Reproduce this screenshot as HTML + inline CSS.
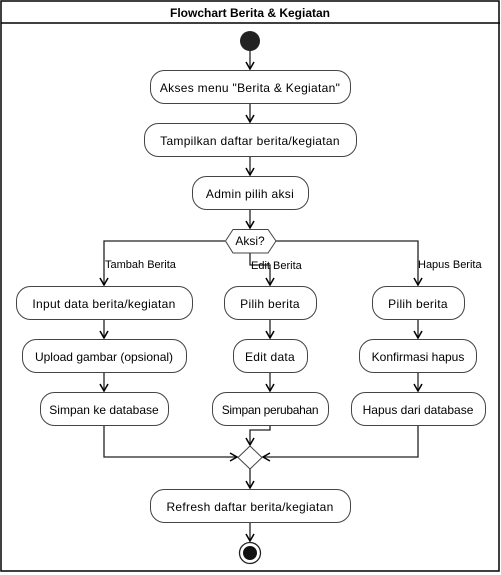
<!DOCTYPE html>
<html><head><style>
html,body{margin:0;padding:0;background:#fff;}
svg{display:block;}
text{font-family:"Liberation Sans",sans-serif;font-size:12px;fill:#000;}
</style></head><body>
<svg width="501" height="575" viewBox="0 0 501 575" xmlns="http://www.w3.org/2000/svg">
<defs>
<marker id="a" markerWidth="10" markerHeight="10" refX="8" refY="5" orient="auto" markerUnits="userSpaceOnUse">
<path d="M1,1 L8,5 L1,9" fill="none" stroke="#000" stroke-width="1.5"/>
</marker>
</defs>
<rect x="1" y="1" width="498" height="570" fill="#fff" stroke="#000" stroke-width="1.5"/>
<line x1="1" y1="23" x2="500" y2="23" stroke="#000" stroke-width="1.5"/>
<text x="250" y="17" text-anchor="middle" font-weight="bold">Flowchart Berita &amp; Kegiatan</text>
<circle cx="250" cy="41" r="10" fill="#222"/>
<g fill="none" stroke="#222" stroke-width="1.3">
<line x1="250" y1="51" x2="250" y2="69" marker-end="url(#a)"/>
<line x1="250" y1="103" x2="250" y2="122" marker-end="url(#a)"/>
<line x1="250" y1="156" x2="250" y2="175" marker-end="url(#a)"/>
<line x1="250" y1="209" x2="250" y2="228" marker-end="url(#a)"/>
<polyline points="225,241 104,241 104,285" marker-end="url(#a)"/>
<polyline points="276,241 418,241 418,285" marker-end="url(#a)"/>
<polyline points="250,253 250,265 270,265 270,285" marker-end="url(#a)"/>
<line x1="104" y1="319" x2="104" y2="338" marker-end="url(#a)"/>
<line x1="104" y1="372" x2="104" y2="391" marker-end="url(#a)"/>
<line x1="270" y1="319" x2="270" y2="338" marker-end="url(#a)"/>
<line x1="270" y1="372" x2="270" y2="391" marker-end="url(#a)"/>
<line x1="418" y1="319" x2="418" y2="338" marker-end="url(#a)"/>
<line x1="418" y1="372" x2="418" y2="391" marker-end="url(#a)"/>
<polyline points="104,425 104,457 237,457" marker-end="url(#a)"/>
<polyline points="418,425 418,457 263,457" marker-end="url(#a)"/>
<polyline points="270,425 270,430 250,430 250,445" marker-end="url(#a)"/>
<line x1="250" y1="469" x2="250" y2="488" marker-end="url(#a)"/>
<line x1="250" y1="522" x2="250" y2="541" marker-end="url(#a)"/>
</g>
<g fill="#fff" stroke="#444" stroke-width="1">
<rect x="150.5" y="70.5" width="200" height="33" rx="14"/>
<rect x="144.5" y="123.5" width="212" height="33" rx="14"/>
<rect x="192.5" y="176.5" width="116" height="33" rx="14"/>
<polygon points="225.5,241 233,229.5 268,229.5 276,241 268,253 233,253"/>
<rect x="16.5" y="286.5" width="176" height="33" rx="14"/>
<rect x="224.5" y="286.5" width="92" height="33" rx="14"/>
<rect x="372.5" y="286.5" width="92" height="33" rx="14"/>
<rect x="22.5" y="339.5" width="164" height="33" rx="14"/>
<rect x="233.5" y="339.5" width="74" height="33" rx="14"/>
<rect x="359.5" y="339.5" width="117" height="33" rx="14"/>
<rect x="40.5" y="392.5" width="128" height="33" rx="14"/>
<rect x="212.5" y="392.5" width="116" height="33" rx="14"/>
<rect x="351.5" y="392.5" width="134" height="33" rx="14"/>
<polygon points="250,446 262,457.5 250,469 238,457.5"/>
<rect x="150.5" y="489.5" width="200" height="33" rx="14"/>
</g>
<circle cx="250" cy="553" r="10.5" fill="#fff" stroke="#222" stroke-width="1.3"/>
<circle cx="250" cy="553" r="7" fill="#111"/>
<g text-anchor="middle" letter-spacing="0.3">
<text x="250" y="92">Akses menu "Berita &amp; Kegiatan"</text>
<text x="250" y="145">Tampilkan daftar berita/kegiatan</text>
<text x="250" y="198">Admin pilih aksi</text>
<text x="250" y="245" font-size="11" letter-spacing="0">Aksi?</text>
<text x="104" y="308">Input data berita/kegiatan</text>
<text x="270" y="308">Pilih berita</text>
<text x="418" y="308">Pilih berita</text>
<text x="104" y="361" letter-spacing="0">Upload gambar (opsional)</text>
<text x="270" y="361">Edit data</text>
<text x="418" y="361" letter-spacing="0">Konfirmasi hapus</text>
<text x="104" y="414" letter-spacing="0">Simpan ke database</text>
<text x="270" y="414" letter-spacing="-0.3">Simpan perubahan</text>
<text x="418" y="414" letter-spacing="0">Hapus dari database</text>
<text x="250" y="511">Refresh daftar berita/kegiatan</text>
</g>
<g font-size="11">
<text x="105" y="268" style="font-size:11px">Tambah Berita</text>
<text x="251" y="269" style="font-size:11px">Edit Berita</text>
<text x="418" y="268" style="font-size:11px">Hapus Berita</text>
</g>
</svg>
</body></html>
